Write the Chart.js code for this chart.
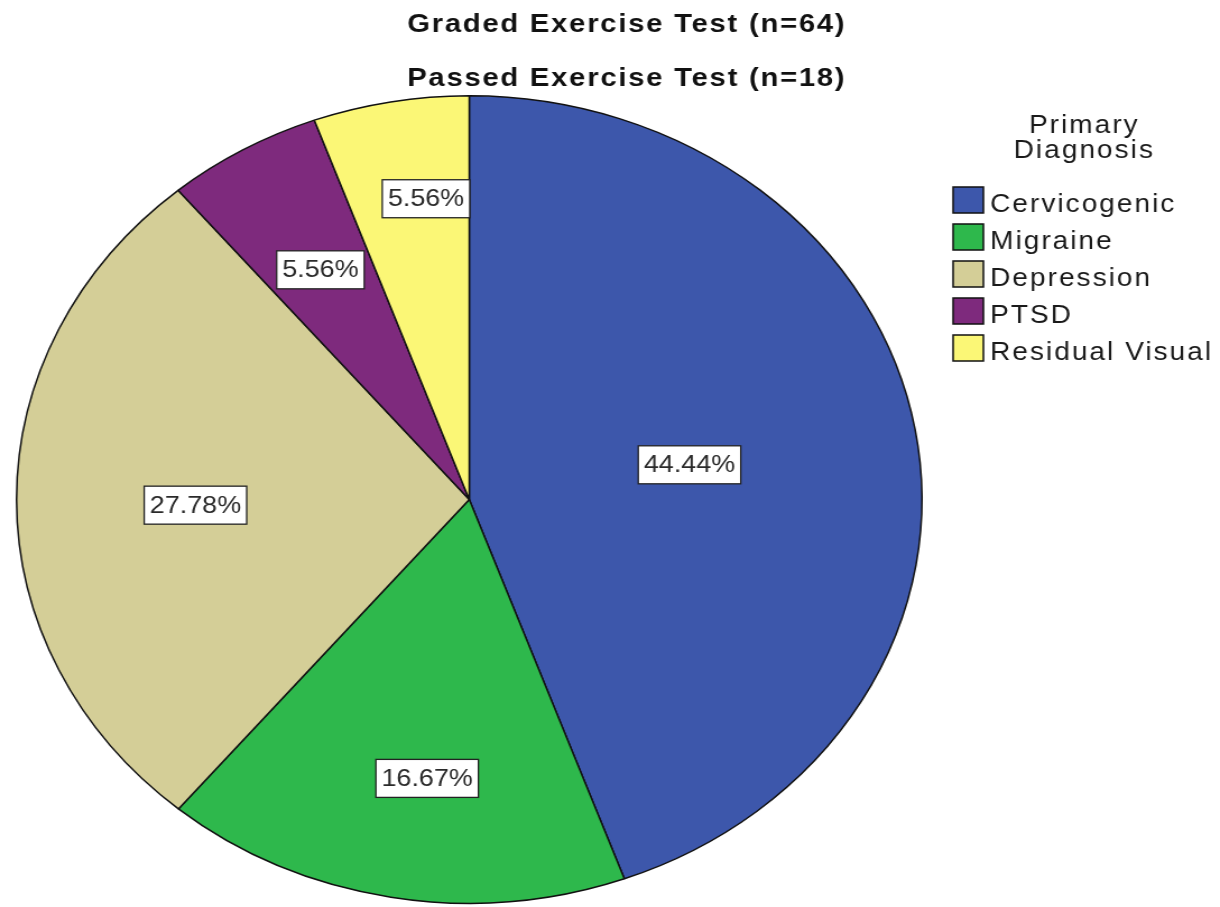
<!DOCTYPE html>
<html>
<head>
<meta charset="utf-8">
<script src="https://cdn.jsdelivr.net/npm/chart.js@4"></script>
<style>
    html, body { margin: 0; padding: 0; background: #fff; overflow: hidden; }
    /* the source figure is stretched horizontally, so the whole drawing is too */
    #wrap {
        position: absolute; left: 0; top: 0;
        width: 1088px; height: 907px;
        transform: scaleX(1.1213); transform-origin: 0 0;
    }
</style>
</head>
<body>
<div id="wrap"><canvas id="diagnosisChart"></canvas></div>
<script>
const titleLines = ['Graded Exercise Test (n=64)', 'Passed Exercise Test (n=18)'];
const legendTitle = ['Primary', 'Diagnosis'];
const categories = ['Cervicogenic', 'Migraine', 'Depression', 'PTSD', 'Residual Visual'];
const percents = [44.44, 16.67, 27.78, 5.56, 5.56];
const sliceColors = ['#3d57ab', '#2eb84c', '#d4ce97', '#7e2a7d', '#fbf776'];

// where each percent box sits: fraction of radius, and nudge off the mid angle (deg)
const labelRadius = [0.494, 0.697, 0.605, 0.657, 0.751];
const labelNudge = [0, -2.3, -1.3, 0, 2.7];

const FONT = '"Liberation Sans", Arial, sans-serif';

const decorPlugin = {
    id: 'decor',
    afterDraw(chart) {
        const ctx = chart.ctx;
        ctx.save();

        // titles
        ctx.fillStyle = '#111';
        ctx.textAlign = 'center';
        ctx.textBaseline = 'alphabetic';
        ctx.font = 'bold 26px ' + FONT;
        ctx.letterSpacing = '1.6px';
        ctx.fillText(titleLines[0], 559, 32);
        ctx.fillText(titleLines[1], 559, 86);

        // legend
        ctx.font = '25px ' + FONT;
        ctx.letterSpacing = '1.8px';
        ctx.fillStyle = '#1a1a1a';
        ctx.fillText(legendTitle[0], 967, 133);
        ctx.fillText(legendTitle[1], 967, 158);

        ctx.textAlign = 'left';
        categories.forEach((name, i) => {
            const top = 187 + i * 37;
            ctx.fillStyle = sliceColors[i];
            ctx.fillRect(850, top, 27, 26);
            ctx.strokeStyle = '#111';
            ctx.lineWidth = 1.5;
            ctx.strokeRect(850, top, 27, 26);
            ctx.fillStyle = '#1a1a1a';
            ctx.fillText(name, 883, top + 25);
        });

        // percent boxes
        ctx.letterSpacing = '0px';
        ctx.font = '24px ' + FONT;
        ctx.textAlign = 'center';
        ctx.textBaseline = 'middle';
        const meta = chart.getDatasetMeta(0);
        meta.data.forEach((arc, i) => {
            const p = arc.getProps(['x', 'y', 'startAngle', 'endAngle', 'outerRadius'], true);
            const mid = (p.startAngle + p.endAngle) / 2 + labelNudge[i] * Math.PI / 180;
            const r = p.outerRadius * labelRadius[i];
            const cx = p.x + Math.cos(mid) * r;
            const cy = p.y + Math.sin(mid) * r;
            const text = percents[i].toFixed(2) + '%';
            const w = ctx.measureText(text).width + 10;
            const h = 38;
            ctx.fillStyle = '#fff';
            ctx.fillRect(cx - w / 2, cy - h / 2, w, h);
            ctx.strokeStyle = '#222';
            ctx.lineWidth = 1.3;
            ctx.strokeRect(cx - w / 2, cy - h / 2, w, h);
            ctx.fillStyle = '#2a2a2a';
            ctx.fillText(text, cx, cy + 1);
        });

        ctx.restore();
    }
};

const ctx = document.getElementById('diagnosisChart').getContext('2d');

window.diagnosisChart = new Chart(ctx, {
    type: 'pie',
    data: {
        labels: categories,
        datasets: [{
            data: percents,
            backgroundColor: sliceColors,
            borderColor: '#111',
            borderWidth: 1.5
        }]
    },
    options: {
        responsive: true,
        maintainAspectRatio: false,
        animation: false,
        layout: {
            padding: {left: 14, right: 265, top: 95, bottom: 3}
        },
        plugins: {
            legend: {display: false},
            title: {display: false},
            tooltip: {enabled: false}
        }
    },
    plugins: [decorPlugin]
});
</script>
</body>
</html>
